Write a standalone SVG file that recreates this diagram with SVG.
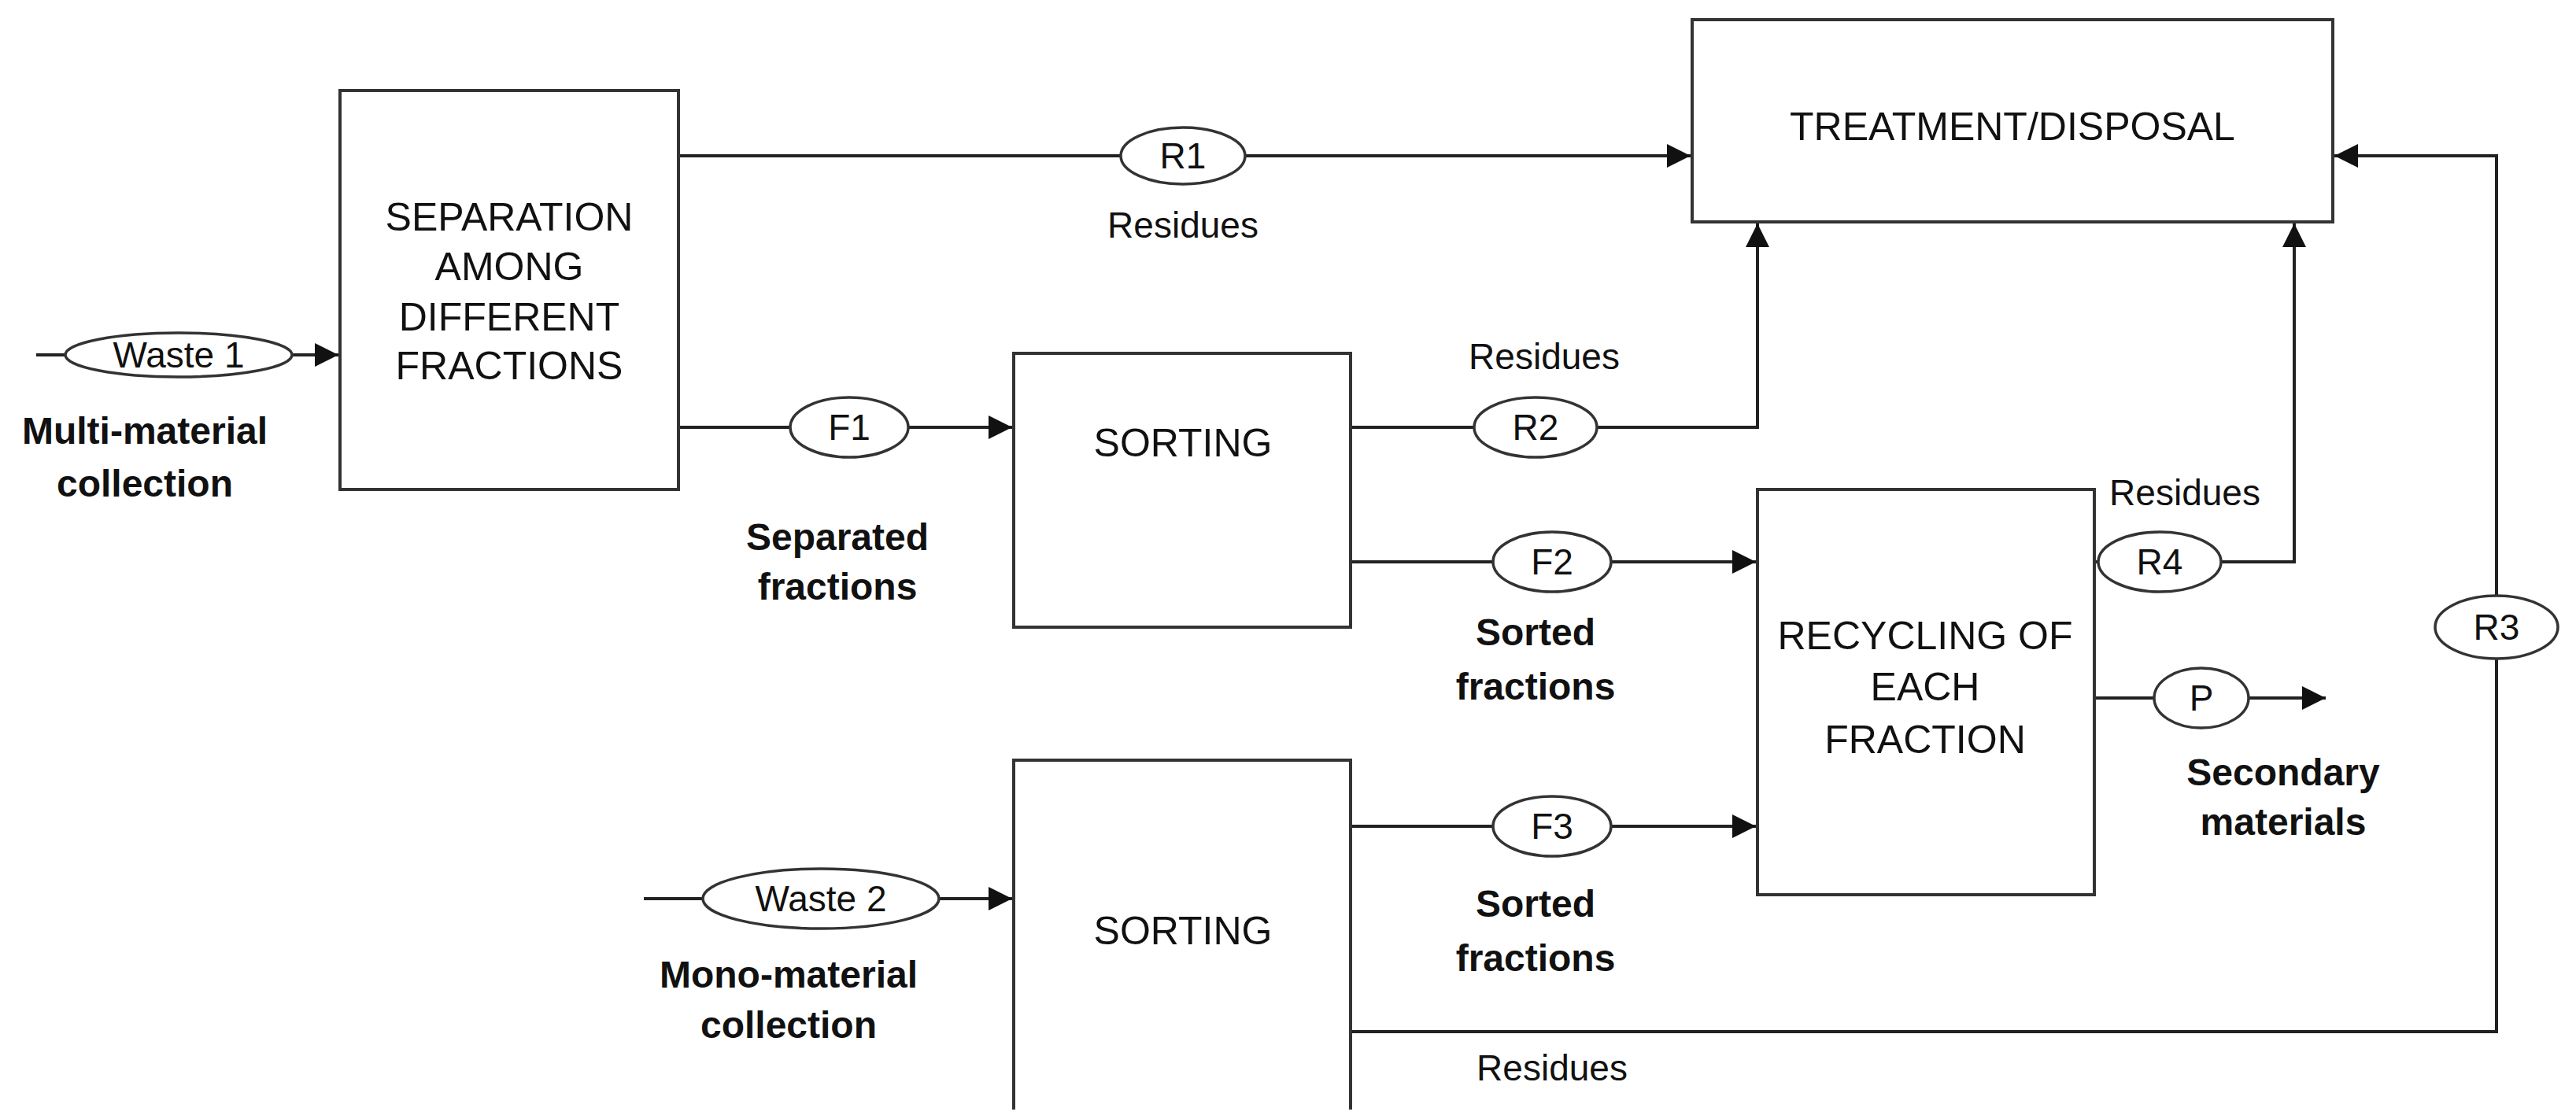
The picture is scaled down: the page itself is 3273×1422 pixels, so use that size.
<svg xmlns="http://www.w3.org/2000/svg" width="3273" height="1422" viewBox="0 0 3273 1422">
<style>
.box{fill:#fff;stroke:#333;stroke-width:4}
.ell{fill:#fff;stroke:#333;stroke-width:3.5}
.ln{fill:none;stroke:#222;stroke-width:4}
text{font-family:"Liberation Sans",Arial,sans-serif;fill:#111;text-anchor:middle}
.bt{font-size:50px}
.lb{font-size:46px}
.bd{font-size:48px;font-weight:bold}
</style>
<defs>
<marker id="ah" viewBox="0 0 10 10" refX="10" refY="5" markerWidth="34" markerHeight="30" orient="auto" markerUnits="userSpaceOnUse"><path d="M0,0L10,5L0,10z" fill="#111"/></marker></defs>
<g id="connectors">
<path class="ln" d="M46,451H430" marker-end="url(#ah)"/>
<path class="ln" d="M862,198H2148" marker-end="url(#ah)"/>
<path class="ln" d="M862,543H1286" marker-end="url(#ah)"/>
<path class="ln" d="M1716,543H2233V284" marker-end="url(#ah)"/>
<path class="ln" d="M1716,714H2231" marker-end="url(#ah)"/>
<path class="ln" d="M2661,714H2915V284" marker-end="url(#ah)"/>
<path class="ln" d="M2661,887H2955" marker-end="url(#ah)"/>
<path class="ln" d="M818,1142H1286" marker-end="url(#ah)"/>
<path class="ln" d="M1716,1050H2231" marker-end="url(#ah)"/>
<path class="ln" d="M1716,1311H3172V198H2966" marker-end="url(#ah)"/>
</g>
<g id="sep"><rect class="box" x="432" y="115" width="430" height="507"/>
<text class="bt" x="647" y="293">SEPARATION</text><text class="bt" x="647" y="356">AMONG</text><text class="bt" x="647" y="420">DIFFERENT</text><text class="bt" x="647" y="482">FRACTIONS</text></g>
<g id="treat"><rect class="box" x="2150" y="25" width="814" height="257"/><text class="bt" x="2557" y="178">TREATMENT/DISPOSAL</text></g>
<g id="sort1"><rect class="box" x="1288" y="449" width="428" height="348"/><text class="bt" x="1503" y="580">SORTING</text></g>
<g id="recyc"><rect class="box" x="2233" y="622" width="428" height="515"/>
<text class="bt" x="2446" y="825">RECYCLING OF</text><text class="bt" x="2446" y="890">EACH</text><text class="bt" x="2446" y="957">FRACTION</text></g>
<g id="sort2"><path class="box" d="M1288,1410V966H1716V1410"/><text class="bt" x="1503" y="1200">SORTING</text></g>
<g id="waste1"><ellipse class="ell" cx="227" cy="451" rx="144" ry="28"/><text class="lb" x="227" y="467">Waste 1</text>
<text class="bd" x="184" y="564">Multi-material</text><text class="bd" x="184" y="631">collection</text></g>
<g id="r1"><ellipse class="ell" cx="1503" cy="198" rx="79" ry="36"/><text class="lb" x="1503" y="214">R1</text><text class="lb" x="1503" y="302">Residues</text></g>
<g id="f1"><ellipse class="ell" cx="1079" cy="543" rx="75" ry="38"/><text class="lb" x="1079" y="559">F1</text>
<text class="bd" x="1064" y="699">Separated</text><text class="bd" x="1064" y="762">fractions</text></g>
<g id="r2"><ellipse class="ell" cx="1951" cy="543" rx="78" ry="38"/><text class="lb" x="1951" y="559">R2</text><text class="lb" x="1962" y="469">Residues</text></g>
<g id="f2"><ellipse class="ell" cx="1972" cy="714" rx="75" ry="38"/><text class="lb" x="1972" y="730">F2</text>
<text class="bd" x="1951" y="820">Sorted</text><text class="bd" x="1951" y="889">fractions</text></g>
<g id="r4"><ellipse class="ell" cx="2744" cy="714" rx="78" ry="38"/><text class="lb" x="2744" y="730">R4</text><text class="lb" x="2776" y="642">Residues</text></g>
<g id="p"><ellipse class="ell" cx="2797" cy="887" rx="60" ry="38"/><text class="lb" x="2797" y="903">P</text>
<text class="bd" x="2901" y="998">Secondary</text><text class="bd" x="2901" y="1061">materials</text></g>
<g id="r3"><ellipse class="ell" cx="3172" cy="797" rx="78" ry="40"/><text class="lb" x="3172" y="813">R3</text></g>
<g id="waste2"><ellipse class="ell" cx="1043" cy="1142" rx="150" ry="38"/><text class="lb" x="1043" y="1158">Waste 2</text>
<text class="bd" x="1002" y="1255">Mono-material</text><text class="bd" x="1002" y="1319">collection</text></g>
<g id="f3"><ellipse class="ell" cx="1972" cy="1050" rx="75" ry="38"/><text class="lb" x="1972" y="1066">F3</text>
<text class="bd" x="1951" y="1165">Sorted</text><text class="bd" x="1951" y="1234">fractions</text></g>
<g id="res3"><text class="lb" x="1972" y="1373">Residues</text></g>
</svg>
